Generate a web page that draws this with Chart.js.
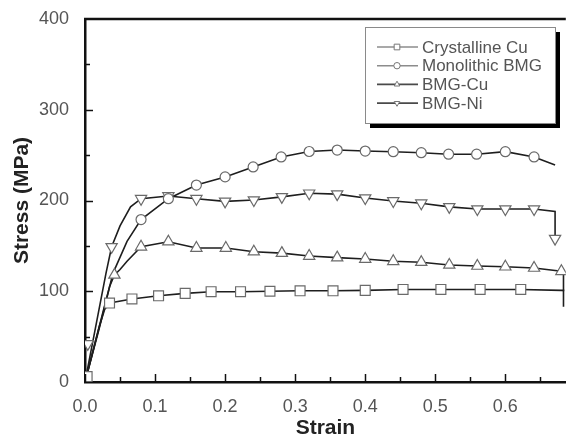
<!DOCTYPE html>
<html>
<head>
<meta charset="utf-8">
<script src="https://cdn.jsdelivr.net/npm/chart.js@4.4.1/dist/chart.umd.min.js"></script>
<style>
  html, body { margin: 0; padding: 0; background: #fff; }
  #wrap { width: 574px; height: 441px; }
</style>
</head>
<body>
<div id="wrap"><canvas id="c" width="574" height="441"></canvas></div>
<script>
// stress-strain curves (strain, MPa)
const seriesNames = ["Crystalline Cu", "Monolithic BMG", "BMG-Cu", "BMG-Ni"];

// full curve paths
const cuPathX = [0, 0.01, 0.02, 0.028, 0.035, 0.067, 0.105, 0.143, 0.18, 0.222, 0.264, 0.307, 0.354, 0.40, 0.454, 0.508, 0.564, 0.622, 0.68, 0.683, 0.683];
const cuPathY = [0, 30, 60, 80, 87, 91.5, 95, 97.7, 99.5, 99.5, 100, 100.5, 100.5, 101, 102, 102, 102, 102, 101, 101, 83];
const monoPathX = [0, 0.02, 0.04, 0.06, 0.08, 0.119, 0.159, 0.2, 0.24, 0.28, 0.32, 0.36, 0.40, 0.44, 0.48, 0.519, 0.559, 0.60, 0.641, 0.671];
const monoPathY = [0, 58, 120, 155, 179, 202, 217, 226, 237, 248, 254, 255.6, 254.5, 253.8, 252.7, 251, 251, 253.8, 248, 239];
const bcuPathX = [0, 0.02, 0.035, 0.042, 0.05, 0.06, 0.08, 0.119, 0.159, 0.201, 0.241, 0.281, 0.32, 0.36, 0.40, 0.44, 0.48, 0.52, 0.56, 0.60, 0.641, 0.68, 0.683, 0.683];
const bcuPathY = [0, 60, 105, 118, 124, 133, 149, 154.6, 147.6, 147.6, 143.6, 142, 138.8, 137, 135.5, 133, 132, 129, 127.8, 127, 125.6, 122, 121, 100];
const niPathX = [0, 0.015, 0.03, 0.038, 0.05, 0.065, 0.08, 0.119, 0.159, 0.2, 0.241, 0.281, 0.32, 0.36, 0.40, 0.44, 0.48, 0.52, 0.56, 0.60, 0.641, 0.671, 0.671];
const niPathY = [0, 60, 120, 149, 172, 193, 202, 205, 202, 199, 200.5, 204, 208, 207, 202.7, 199.5, 197, 193, 190.6, 190.6, 190.6, 188, 158];

// symbol positions
const cuMarkX = [0.003, 0.035, 0.067, 0.105, 0.143, 0.18, 0.222, 0.264, 0.307, 0.354, 0.40, 0.454, 0.508, 0.564, 0.622];
const cuMarkY = [6, 87, 91.5, 95, 97.7, 99.5, 99.5, 100, 100.5, 100.5, 101, 102, 102, 102, 102];
const monoMarkX = [0.08, 0.119, 0.159, 0.2, 0.24, 0.28, 0.32, 0.36, 0.40, 0.44, 0.48, 0.519, 0.559, 0.60, 0.641];
const monoMarkY = [179, 202, 217, 226, 237, 248, 254, 255.6, 254.5, 253.8, 252.7, 251, 251, 253.8, 248];
const bcuMarkX = [0.042, 0.08, 0.119, 0.159, 0.201, 0.241, 0.281, 0.32, 0.36, 0.40, 0.44, 0.48, 0.52, 0.56, 0.60, 0.641, 0.68];
const bcuMarkY = [118, 149, 154.6, 147.6, 147.6, 143.6, 142, 138.8, 137, 135.5, 133, 132, 129, 127.8, 127, 125.6, 122];
const niMarkX = [0.004, 0.038, 0.08, 0.119, 0.159, 0.2, 0.241, 0.281, 0.32, 0.36, 0.40, 0.44, 0.48, 0.52, 0.56, 0.60, 0.641, 0.671];
const niMarkY = [42, 149, 202, 205, 202, 199, 200.5, 204, 208, 207, 202.7, 199.5, 197, 193, 190.6, 190.6, 190.6, 158];

const xTicks = [0, 0.1, 0.2, 0.3, 0.4, 0.5, 0.6];
const yTicks = [0, 100, 200, 300, 400];

const FONT = "'Liberation Sans', Arial, Helvetica, sans-serif";
const pts = (xs, ys) => xs.map((x, i) => ({ x: x, y: ys[i] }));

const styles = [
  { pointStyle: "rect", radius: 7, rotation: 0 },
  { pointStyle: "circle", radius: 5, rotation: 0 },
  { pointStyle: "triangle", radius: 6.5, rotation: 0 },
  { pointStyle: "triangle", radius: 6.5, rotation: 180 }
];
const paths = [[cuPathX, cuPathY], [monoPathX, monoPathY], [bcuPathX, bcuPathY], [niPathX, niPathY]];
const marks = [[cuMarkX, cuMarkY], [monoMarkX, monoMarkY], [bcuMarkX, bcuMarkY], [niMarkX, niMarkY]];

const datasets = [];
paths.forEach((p, i) => datasets.push({
  data: pts(p[0], p[1]), borderColor: "#1e1e1e", borderWidth: 1.6,
  pointRadius: 0, fill: false, tension: 0, order: 2
}));
marks.forEach((m, i) => datasets.push({
  label: seriesNames[i], data: pts(m[0], m[1]), showLine: false,
  pointStyle: styles[i].pointStyle, pointRotation: styles[i].rotation, pointRadius: styles[i].radius,
  pointBackgroundColor: "#fff", pointBorderColor: "#6a6a6a", pointBorderWidth: 1.2, order: 1
}));

// top frame line, inward ticks, boxed legend with shadow
const frame = {
  id: "frame",
  afterDraw(chart) {
    const ctx = chart.ctx, a = chart.chartArea, xs = chart.scales.x, ys = chart.scales.y;
    ctx.save();
    ctx.strokeStyle = "#111";
    ctx.lineWidth = 2.5;
    ctx.beginPath(); ctx.moveTo(a.left - 1, a.top); ctx.lineTo(a.right, a.top); ctx.stroke();
    ctx.lineWidth = 1.5;
    for (let v = 0; v <= 0.65 + 1e-9; v += 0.05) {
      const px = Math.round(xs.getPixelForValue(v)) + 0.5;
      const len = Math.abs(v * 10 - Math.round(v * 10)) < 1e-6 ? 8 : 5;
      ctx.beginPath(); ctx.moveTo(px, a.bottom); ctx.lineTo(px, a.bottom - len); ctx.stroke();
    }
    for (let v = 50; v < 400; v += 50) {
      const py = Math.round(ys.getPixelForValue(v)) + 0.5;
      const len = v % 100 === 0 ? 8 : 5;
      ctx.beginPath(); ctx.moveTo(a.left, py); ctx.lineTo(a.left + len, py); ctx.stroke();
    }

    // legend
    const bx = 365, by = 27, bw = 190, bh = 96;
    ctx.fillStyle = "#000";
    ctx.fillRect(bx + 5, by + 5, bw, bh);
    ctx.fillStyle = "#fff";
    ctx.fillRect(bx, by, bw, bh);
    ctx.strokeStyle = "#8a8a8a"; ctx.lineWidth = 1;
    ctx.strokeRect(bx + 0.5, by + 0.5, bw, bh);
    ctx.font = "17px " + FONT;
    ctx.textBaseline = "middle";
    seriesNames.forEach((name, i) => {
      const y = 47 + i * 18.7;
      ctx.strokeStyle = i < 2 ? "#8c8c8c" : "#4a4a4a";
      ctx.lineWidth = 1.6;
      ctx.beginPath(); ctx.moveTo(377, y); ctx.lineTo(418, y); ctx.stroke();
      ctx.fillStyle = "#fff"; ctx.strokeStyle = "#777"; ctx.lineWidth = 1;
      Chart.helpers.drawPoint(ctx, { pointStyle: styles[i].pointStyle, rotation: styles[i].rotation,
        radius: styles[i].pointStyle === "rect" ? 4 : 3.2, borderWidth: 1 }, 397, y);
      ctx.fillStyle = "#555";
      ctx.fillText(name, 422, y + 1);
    });
    ctx.restore();
  }
};

new Chart(document.getElementById("c"), {
  type: "line",
  data: { datasets: datasets },
  plugins: [frame],
  options: {
    responsive: false,
    animation: false,
    devicePixelRatio: 1,
    layout: { padding: { top: 19, right: 0, left: 0, bottom: 0 } },
    plugins: { legend: { display: false }, tooltip: { enabled: false } },
    scales: {
      x: {
        type: "linear", min: 0, max: 0.6863,
        afterFit(s) { s.height = 59; },
        afterBuildTicks(s) { s.ticks = xTicks.map(v => ({ value: v })); },
        grid: { display: false },
        border: { color: "#111", width: 2.5 },
        ticks: { color: "#555", padding: 6, font: { family: FONT, size: 18 }, callback: v => v.toFixed(1) },
        title: { display: true, text: "Strain", color: "#222", padding: { top: 0, bottom: 0 }, font: { family: FONT, size: 21, weight: "bold" } }
      },
      y: {
        type: "linear", min: 0, max: 400,
        afterFit(s) { s.width = 85; },
        afterBuildTicks(s) { s.ticks = yTicks.map(v => ({ value: v })); },
        grid: { display: false },
        border: { color: "#111", width: 2.5 },
        ticks: { color: "#555", padding: 8, font: { family: FONT, size: 18 } },
        title: { display: true, text: "Stress (MPa)", color: "#222", padding: { top: 10, bottom: 0 }, font: { family: FONT, size: 21, weight: "bold" } }
      }
    }
  }
});
</script>
</body>
</html>
